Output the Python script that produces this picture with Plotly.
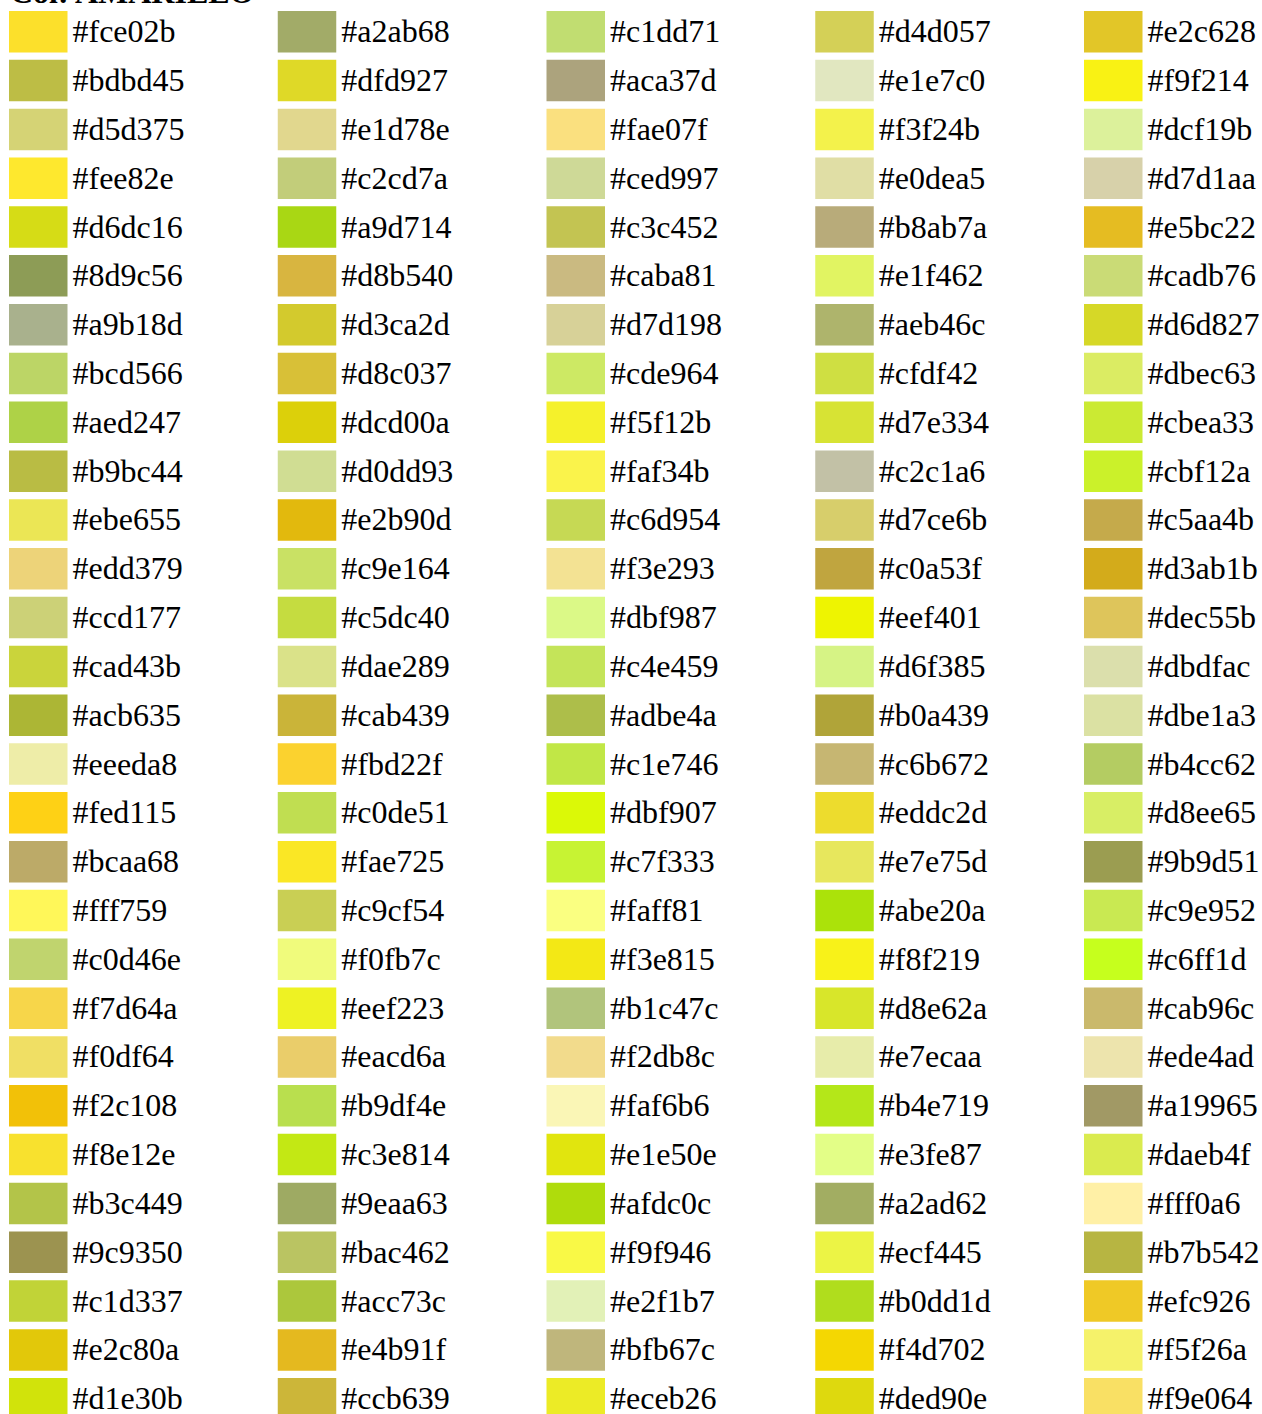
import plotly.graph_objects as go

# colour swatches, one list per column, read top to bottom
col_1 = ["#fce02b", "#bdbd45", "#d5d375", "#fee82e", "#d6dc16", "#8d9c56", "#a9b18d", "#bcd566",
         "#aed247", "#b9bc44", "#ebe655", "#edd379", "#ccd177", "#cad43b", "#acb635", "#eeeda8",
         "#fed115", "#bcaa68", "#fff759", "#c0d46e", "#f7d64a", "#f0df64", "#f2c108", "#f8e12e",
         "#b3c449", "#9c9350", "#c1d337", "#e2c80a", "#d1e30b"]
col_2 = ["#a2ab68", "#dfd927", "#e1d78e", "#c2cd7a", "#a9d714", "#d8b540", "#d3ca2d", "#d8c037",
         "#dcd00a", "#d0dd93", "#e2b90d", "#c9e164", "#c5dc40", "#dae289", "#cab439", "#fbd22f",
         "#c0de51", "#fae725", "#c9cf54", "#f0fb7c", "#eef223", "#eacd6a", "#b9df4e", "#c3e814",
         "#9eaa63", "#bac462", "#acc73c", "#e4b91f", "#ccb639"]
col_3 = ["#c1dd71", "#aca37d", "#fae07f", "#ced997", "#c3c452", "#caba81", "#d7d198", "#cde964",
         "#f5f12b", "#faf34b", "#c6d954", "#f3e293", "#dbf987", "#c4e459", "#adbe4a", "#c1e746",
         "#dbf907", "#c7f333", "#faff81", "#f3e815", "#b1c47c", "#f2db8c", "#faf6b6", "#e1e50e",
         "#afdc0c", "#f9f946", "#e2f1b7", "#bfb67c", "#eceb26"]
col_4 = ["#d4d057", "#e1e7c0", "#f3f24b", "#e0dea5", "#b8ab7a", "#e1f462", "#aeb46c", "#cfdf42",
         "#d7e334", "#c2c1a6", "#d7ce6b", "#c0a53f", "#eef401", "#d6f385", "#b0a439", "#c6b672",
         "#eddc2d", "#e7e75d", "#abe20a", "#f8f219", "#d8e62a", "#e7ecaa", "#b4e719", "#e3fe87",
         "#a2ad62", "#ecf445", "#b0dd1d", "#f4d702", "#ded90e"]
col_5 = ["#e2c628", "#f9f214", "#dcf19b", "#d7d1aa", "#e5bc22", "#cadb76", "#d6d827", "#dbec63",
         "#cbea33", "#cbf12a", "#c5aa4b", "#d3ab1b", "#dec55b", "#dbdfac", "#dbe1a3", "#b4cc62",
         "#d8ee65", "#9b9d51", "#c9e952", "#c6ff1d", "#cab96c", "#ede4ad", "#a19965", "#daeb4f",
         "#fff0a6", "#b7b542", "#efc926", "#f5f26a", "#f9e064"]
columns = [col_1, col_2, col_3, col_4, col_5]
title_text = "Col: AMARILLO"

W, H = 1262, 1414
COL_PX = 268.75      # horizontal pitch between columns
ROW_PX = 48.82       # vertical pitch between rows
LEFT_PX = 9          # left edge of first swatch
TOP_PX = 31.75       # centre of first swatch row
SW_W = 58.5 / COL_PX
SW_H = 41.5 / ROW_PX
TEXT_DX = 5 / COL_PX   # gap between swatch and label
TEXT_DY = 2.5 / ROW_PX # nudge labels down a touch

xs, ys, colors = [], [], []
for c, col in enumerate(columns):
    for r, hexcol in enumerate(col):
        xs.append(c)
        ys.append(r)
        colors.append(hexcol)

fig = go.Figure()

fig.add_trace(go.Bar(
    orientation="h", y=ys, base=xs, x=[SW_W] * len(xs), width=SW_H,
    marker=dict(color=colors, line=dict(width=0)), hoverinfo="skip"
))

fig.add_trace(go.Scatter(
    x=[x + SW_W + TEXT_DX for x in xs], y=[y + TEXT_DY for y in ys],
    mode="text", text=colors, textposition="middle right",
    textfont=dict(family="Liberation Serif", size=32, color="black"),
    hoverinfo="skip"
))

# title sits mostly above the top edge, as in the original
fig.add_annotation(
    text="<b>" + title_text + "</b>", xref="paper", yref="paper", x=0, y=1,
    xanchor="left", yanchor="bottom", xshift=8, yshift=-12, showarrow=False,
    font=dict(family="Liberation Serif", size=32, color="black")
)

fig.update_layout(
    width=W, height=H, margin=dict(l=0, r=0, t=0, b=0),
    plot_bgcolor="white", paper_bgcolor="white", showlegend=False,
    xaxis=dict(range=[-LEFT_PX / COL_PX, (W - LEFT_PX) / COL_PX], visible=False),
    yaxis=dict(range=[(H - TOP_PX) / ROW_PX, -TOP_PX / ROW_PX], visible=False),
)

fig.write_html("out.html", config={"displayModeBar": False},
               post_script="document.body.style.margin='0';")
